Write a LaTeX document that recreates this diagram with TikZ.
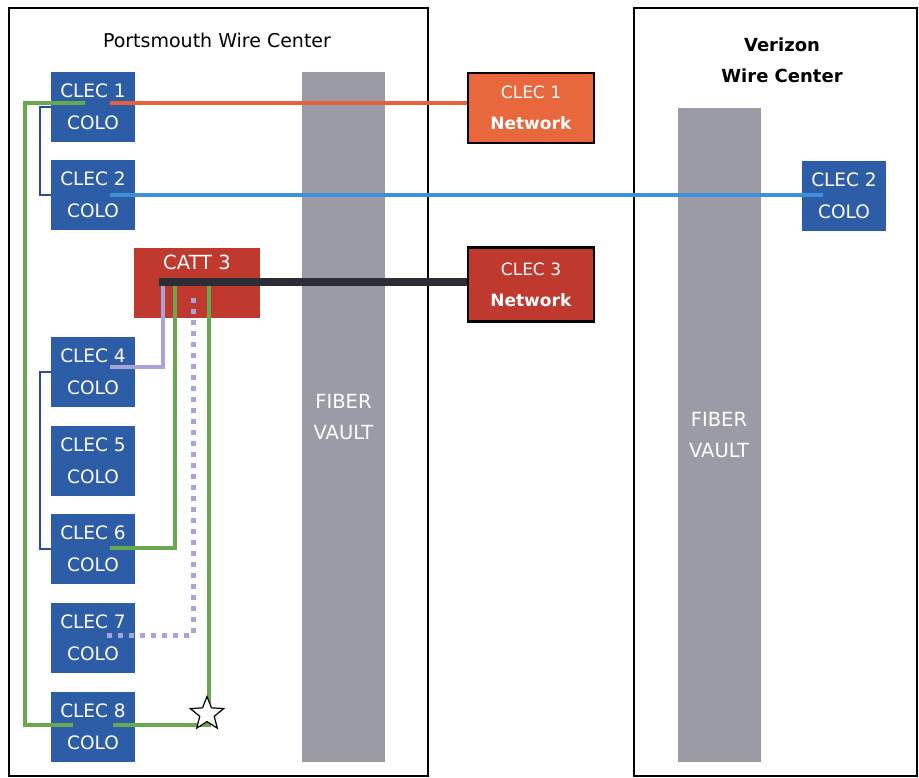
\documentclass[tikz,border=0pt]{standalone}
\usepackage{fontspec}
\setmainfont{DejaVu Sans}
\usetikzlibrary{shapes.geometric,calc}
\definecolor{coloblue}{HTML}{2E5DA8}
\definecolor{netorange}{HTML}{E8673C}
\definecolor{bred}{HTML}{C0392E}
\definecolor{vaultgray}{HTML}{9B9BA5}
\definecolor{lgreen}{HTML}{6AA84F}
\definecolor{lblue}{HTML}{3D8FD6}
\definecolor{lred}{HTML}{E8603C}
\definecolor{navy}{HTML}{2B4C9B}
\definecolor{lav}{HTML}{A8A4D8}
\definecolor{barblack}{HTML}{2D2D35}
\begin{document}
\begin{tikzpicture}[x=1pt,y=-1pt,
  frame/.style={draw=black,line width=2pt},
  colo/.style={fill=coloblue,text=white,minimum width=84pt,minimum height=70pt,inner sep=0pt,align=center,font=\fontsize{18.5}{32}\selectfont},
  netbox/.style={draw=black,line width=2.5pt,text=white,minimum width=126pt,minimum height=70pt,inner sep=0pt,align=center,font=\fontsize{17}{31}\selectfont},
  vault/.style={fill=vaultgray,text=white,minimum width=83pt,inner sep=0pt,align=center,font=\fontsize{19.5}{31}\selectfont},
  title/.style={text=black,align=center,font=\fontsize{19}{31}\selectfont},
  gline/.style={draw=lgreen,line width=4pt},
  nline/.style={draw=navy,line width=2.5pt},
  lline/.style={draw=lav,line width=4pt},
  dline/.style={draw=lav,line width=5pt,dash pattern=on 5pt off 6pt},
]
\useasboundingbox (0,0) rectangle (919,778);
\fill[white] (0,0) rectangle (919,778);

% wire center frames
\draw[frame] (9,8) rectangle (428,776);
\draw[frame] (634,8) rectangle (917,776);
\node[title] (ptitle) at (217,40) {Portsmouth Wire Center};
\node[title,font=\fontsize{18}{31}\selectfont\bfseries] (vtitle) at (782,60) {Verizon\\Wire Center};

% fiber vaults
\node[vault,minimum height=690pt] (v1) at (343.5,417) {FIBER\\VAULT};
\node[vault,minimum height=654pt] (v2) at (719,435) {FIBER\\VAULT};

% colo boxes
\node[colo] (c1) at (93,107) {CLEC 1\\COLO};
\node[colo] (c2) at (93,195) {CLEC 2\\COLO};
\node[colo] (c4) at (93,372) {CLEC 4\\COLO};
\node[colo] (c5) at (93,461) {CLEC 5\\COLO};
\node[colo] (c6) at (93,549) {CLEC 6\\COLO};
\node[colo] (c7) at (93,638) {CLEC 7\\COLO};
\node[colo] (c8) at (93,727) {CLEC 8\\COLO};
\node[colo] (vc2) at (844,196) {CLEC 2\\COLO};

% CATT 3
\node[fill=bred,minimum width=126pt,minimum height=70pt,inner sep=0pt] (catt) at (197,283) {};
\node[text=white,font=\fontsize{19.5}{22}\selectfont,anchor=north,inner sep=0pt] (catttxt) at ($(catt.north)+(0,7)$) {CATT 3};

% network boxes
\node[netbox,fill=netorange] (n1) at (531,108) {CLEC 1\\\textbf{Network}};
\node[netbox,fill=bred,minimum height=74pt] (n3) at (531,284.5) {CLEC 3\\\textbf{Network}};

% coordinates
\coordinate (r1) at ($(c1.center)+(17,-4)$);
\coordinate (g1) at ($(c1.center)+(-8,-4)$);
\coordinate (b1) at ($(c2.center)+(17,0)$);
\coordinate (b2) at ($(vc2.center)+(-21,0)$);
\coordinate (l4) at ($(c4.center)+(17,-5)$);
\coordinate (g6) at ($(c6.center)+(17,-1)$);
\coordinate (d7) at ($(c7.center)+(14,-3)$);
\coordinate (g8l) at ($(c8.center)+(-20,-2)$);
\coordinate (g8r) at ($(c8.center)+(20,-2)$);
\coordinate (bar0) at ($(catt.center)+(-38,-1)$);
\coordinate (ltop) at ($(catt.center)+(-34,-1)$);
\coordinate (g6top) at ($(catt.center)+(-22,-1)$);
\coordinate (dtop) at ($(catt.center)+(-4,14)$);
\coordinate (grtop) at ($(catt.center)+(12,-1)$);

% navy brackets
\draw[nline] (c1.west) -- ++(-11,0) |- (c2.west);
\draw[nline] (c4.west) -- ++(-11,0) |- (c6.west);

% long connectors
\draw[draw=lred,line width=4.5pt] (r1) -- (r1 -| n1.west);
\draw[draw=lblue,line width=4pt] (b1) -- (b1 -| b2);

% green loop CLEC1 - CLEC8
\draw[gline] (g1) -- ++(-60,0) |- (g8l);

% connections into CATT 3
\draw[lline] (l4) -| (ltop);
\draw[gline] (g6) -| (g6top);
\draw[dline] (d7) -| (dtop);
\draw[gline] (grtop) |- (g8r);

% black bar CATT 3 - CLEC 3 Network
\draw[draw=barblack,line width=8pt] (bar0) -- (bar0 -| n3.west);

% star
\node[star,star points=5,star point ratio=2.3,draw=black,line width=1.2pt,fill=white,minimum size=35pt,inner sep=0pt] (st) at (207,714) {};
\end{tikzpicture}
\end{document}
